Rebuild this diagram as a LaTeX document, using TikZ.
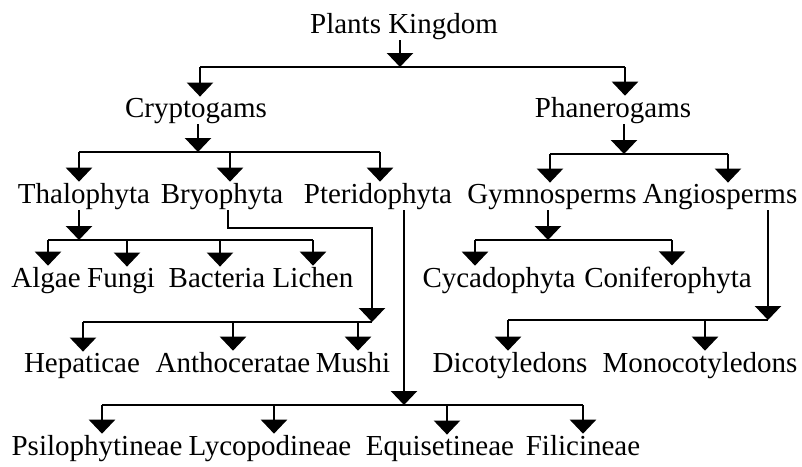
\documentclass[tikz,border=0pt]{standalone}
\usepackage{fontspec}
\setmainfont{Liberation Serif}
\usetikzlibrary{arrows.meta, positioning}

\begin{document}
\begin{tikzpicture}[x=1pt,y=-1pt,line width=2.4pt,>={Triangle[width=26pt,length=14pt]}]
            \tikzstyle{every node}=[inner sep=0pt,anchor=base,font=\fontsize{29}{34}\selectfont]
            \useasboundingbox (0,0) rectangle (802,466);

            \node (pk) at (404,33) {Plants Kingdom};

            \node (cry) at (196,117) {Cryptogams};
            \node (phan) at (613,117) {Phanerogams};

            \node (thal) at (84,203) {Thalophyta};
            \node (bryo) at (222,203) {Bryophyta};
            \node (pter) at (378,203) {Pteridophyta};
            \node (gym) at (552,203) {Gymnosperms};
            \node (ang) at (720,203) {Angiosperms};

            \node (alg) at (46,287) {Algae};
            \node (fun) at (121,287) {Fungi};
            \node (bac) at (217,287) {Bacteria};
            \node (lic) at (313,287) {Lichen};
            \node (cyc) at (499,287) {Cycadophyta};
            \node (con) at (668,287) {Coniferophyta};

            \node (hep) at (82,372) {Hepaticae};
            \node (ant) at (233,372) {Anthoceratae};
            \node (mus) at (353,372) {Mushi};
            \node (dic) at (510,372) {Dicotyledons};
            \node (mon) at (700,372) {Monocotyledons};

            \node (psi) at (97,455) {Psilophytineae};
            \node (lyc) at (270,455) {Lycopodineae};
            \node (equ) at (440,455) {Equisetineae};
            \node (fil) at (583,455) {Filicineae};

            \coordinate (b0l) at (200,67);
            \coordinate (b0m) at (400,67);
            \coordinate (b0r) at (625,67);

            \coordinate (b1l) at (79,152);
            \coordinate (b1m) at (198,152);
            \coordinate (b1c) at (230,152);
            \coordinate (b1r) at (380,152);

            \coordinate (b2l) at (550,154);
            \coordinate (b2m) at (624,154);
            \coordinate (b2r) at (728,154);

            \coordinate (b3l) at (48,240);
            \coordinate (b3a) at (79,240);
            \coordinate (b3b) at (127,240);
            \coordinate (b3c) at (220,240);
            \coordinate (b3r) at (313,240);

            \coordinate (b4l) at (475,240);
            \coordinate (b4m) at (548,240);
            \coordinate (b4r) at (672,240);

            \coordinate (c5a) at (228,228);
            \coordinate (c5b) at (372,228);
            \coordinate (b5l) at (83,322);
            \coordinate (b5c) at (233,322);
            \coordinate (b5d) at (358,322);
            \coordinate (b5r) at (372,322);

            \coordinate (b6l) at (508,320);
            \coordinate (b6c) at (705,320);
            \coordinate (b6r) at (768,320);

            \coordinate (b7l) at (102,405);
            \coordinate (b7b) at (274,405);
            \coordinate (b7m) at (404,405);
            \coordinate (b7c) at (447,405);
            \coordinate (b7r) at (583,405);

            \draw (b0l) -- (b0r);
            \draw (b1l) -- (b1r);
            \draw (b2l) -- (b2r);
            \draw (b3l) -- (b3r);
            \draw (b4l) -- (b4r);
            \draw (b5l) -- (b5r);
            \draw (b6l) -- (b6r);
            \draw (b7l) -- (b7r);

            \draw[->] (c5a |- bryo.south) -- (c5a) -- (c5b) -- (b5r);

            \path[->]
            (b0m |- pk.south) edge (b0m)
            (b0l) edge (b0l |- cry.north)
            (b0r) edge (b0r |- phan.north)

            (b1m |- cry.south) edge (b1m)
            (b1l) edge (b1l |- thal.north)
            (b1c) edge (b1c |- bryo.north)
            (b1r) edge (b1r |- pter.north)

            (b2m |- phan.south) edge (b2m)
            (b2l) edge (b2l |- gym.north)
            (b2r) edge (b2r |- ang.north)

            (b3a |- thal.south) edge (b3a)
            (b3l) edge (b3l |- alg.north)
            (b3b) edge (b3b |- fun.north)
            (b3c) edge (b3c |- bac.north)
            (b3r) edge (b3r |- lic.north)

            (b4m |- gym.south) edge (b4m)
            (b4l) edge (b4l |- cyc.north)
            (b4r) edge (b4r |- con.north)

            (b5l) edge (b5l |- hep.north)
            (b5c) edge (b5c |- ant.north)
            (b5d) edge (b5d |- mus.north)

            (b6r |- ang.south) edge (b6r)
            (b6l) edge (b6l |- dic.north)
            (b6c) edge (b6c |- mon.north)

            (b7m |- pter.south) edge (b7m)
            (b7l) edge (b7l |- psi.north)
            (b7b) edge (b7b |- lyc.north)
            (b7c) edge (b7c |- equ.north)
            (b7r) edge (b7r |- fil.north);

          \end{tikzpicture}
\end{document}
